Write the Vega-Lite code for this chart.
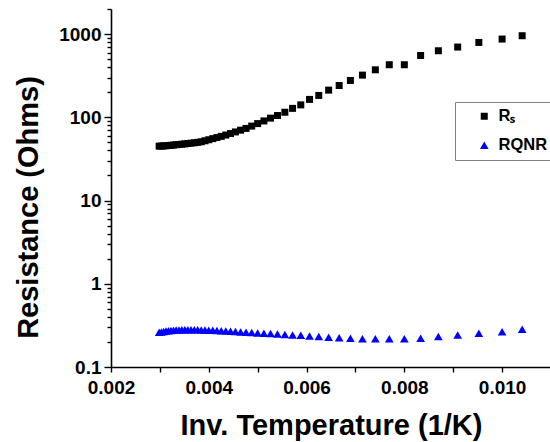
{
  "$schema": "https://vega.github.io/schema/vega-lite/v6.json",
  "autosize": {"type": "none"},
  "padding": {"left": 111, "top": 9, "right": 0, "bottom": 75},
  "width": 440,
  "height": 358,
  "background": "white",
  "config": {
    "view": {"stroke": null},
    "font": "Liberation Sans",
    "axis": {
      "domainColor": "#000000",
      "domainWidth": 1.6,
      "tickColor": "#000000",
      "tickWidth": 1.4,
      "labelColor": "#000000",
      "titleColor": "#000000",
      "labelFont": "Liberation Sans",
      "titleFont": "Liberation Sans",
      "labelFontWeight": "bold",
      "titleFontWeight": "bold",
      "labelFontSize": 19,
      "titleFontSize": 29,
      "grid": false,
      "labelOverlap": false,
      "labelFlush": false
    },
    "legend": {
      "orient": "none",
      "legendX": 344,
      "legendY": 93,
      "padding": 6,
      "symbolOffset": 15,
      "labelOffset": 6,
      "rowPadding": 12,
      "strokeColor": "#808080",
      "fillColor": "white",
      "labelFont": "Liberation Sans",
      "labelFontWeight": "bold",
      "labelFontSize": 16.5,
      "labelColor": "#000000"
    }
  },
  "data": {
    "values": [
      {"invT": 0.01041, "Rs": 955, "RQNR": 0.284},
      {"invT": 0.01, "Rs": 871, "RQNR": 0.266},
      {"invT": 0.009524, "Rs": 793, "RQNR": 0.255},
      {"invT": 0.009091, "Rs": 698, "RQNR": 0.243},
      {"invT": 0.008696, "Rs": 630, "RQNR": 0.232},
      {"invT": 0.008333, "Rs": 553, "RQNR": 0.222},
      {"invT": 0.008, "Rs": 428, "RQNR": 0.219},
      {"invT": 0.007692, "Rs": 428, "RQNR": 0.218},
      {"invT": 0.007407, "Rs": 372, "RQNR": 0.218},
      {"invT": 0.007143, "Rs": 321, "RQNR": 0.219},
      {"invT": 0.006897, "Rs": 277, "RQNR": 0.222},
      {"invT": 0.006667, "Rs": 241, "RQNR": 0.225},
      {"invT": 0.006452, "Rs": 212, "RQNR": 0.228},
      {"invT": 0.00625, "Rs": 183, "RQNR": 0.232},
      {"invT": 0.006061, "Rs": 164, "RQNR": 0.236},
      {"invT": 0.005882, "Rs": 141, "RQNR": 0.24},
      {"invT": 0.005714, "Rs": 128, "RQNR": 0.243},
      {"invT": 0.005556, "Rs": 115, "RQNR": 0.246},
      {"invT": 0.005405, "Rs": 105, "RQNR": 0.249},
      {"invT": 0.005263, "Rs": 97.7, "RQNR": 0.252},
      {"invT": 0.005128, "Rs": 90.4, "RQNR": 0.255},
      {"invT": 0.005, "Rs": 84, "RQNR": 0.257},
      {"invT": 0.004878, "Rs": 78.4, "RQNR": 0.259},
      {"invT": 0.004762, "Rs": 73.5, "RQNR": 0.261},
      {"invT": 0.004651, "Rs": 70, "RQNR": 0.264},
      {"invT": 0.004545, "Rs": 66.7, "RQNR": 0.267},
      {"invT": 0.004444, "Rs": 63.8, "RQNR": 0.269},
      {"invT": 0.004348, "Rs": 61.2, "RQNR": 0.271},
      {"invT": 0.004255, "Rs": 59, "RQNR": 0.273},
      {"invT": 0.004167, "Rs": 57.1, "RQNR": 0.275},
      {"invT": 0.004082, "Rs": 55.4, "RQNR": 0.276},
      {"invT": 0.004, "Rs": 53.7, "RQNR": 0.277},
      {"invT": 0.003922, "Rs": 52.2, "RQNR": 0.278},
      {"invT": 0.003846, "Rs": 50.8, "RQNR": 0.279},
      {"invT": 0.003774, "Rs": 50, "RQNR": 0.28},
      {"invT": 0.003704, "Rs": 49.4, "RQNR": 0.28},
      {"invT": 0.003636, "Rs": 48.9, "RQNR": 0.281},
      {"invT": 0.003571, "Rs": 48.4, "RQNR": 0.281},
      {"invT": 0.003509, "Rs": 47.9, "RQNR": 0.281},
      {"invT": 0.003448, "Rs": 47.5, "RQNR": 0.28},
      {"invT": 0.00339, "Rs": 47.1, "RQNR": 0.279},
      {"invT": 0.003333, "Rs": 46.8, "RQNR": 0.278},
      {"invT": 0.003279, "Rs": 46.4, "RQNR": 0.277},
      {"invT": 0.003226, "Rs": 46.1, "RQNR": 0.275},
      {"invT": 0.003175, "Rs": 45.8, "RQNR": 0.273},
      {"invT": 0.003125, "Rs": 45.5, "RQNR": 0.27},
      {"invT": 0.003077, "Rs": 45.3, "RQNR": 0.267},
      {"invT": 0.00303, "Rs": 45.1, "RQNR": 0.264},
      {"invT": 0.002985, "Rs": 45, "RQNR": 0.261}
    ]
  },
  "transform": [
    {"fold": ["Rs", "RQNR"], "as": ["series", "R"]}
  ],
  "mark": {"type": "point", "filled": true, "opacity": 1, "strokeWidth": 0},
  "encoding": {
    "x": {
      "field": "invT",
      "type": "quantitative",
      "scale": {"domain": [0.002, 0.011], "nice": false, "zero": false},
      "axis": {
        "title": "Inv. Temperature (1/K)",
        "values": [0.002, 0.003, 0.004, 0.005, 0.006, 0.007, 0.008, 0.009, 0.01, 0.011],
        "format": ".3f",
        "labelExpr": "indexof(['0.002','0.004','0.006','0.008','0.010'], datum.label) >= 0 ? datum.label : ''",
        "tickSize": 5,
        "labelPadding": 6,
        "titlePadding": 14
      }
    },
    "y": {
      "field": "R",
      "type": "quantitative",
      "scale": {"type": "log", "domain": [0.1, 2000], "nice": false},
      "axis": {
        "title": "Resistance (Ohms)",
        "values": [0.1, 0.2, 0.3, 0.4, 0.5, 0.6, 0.7, 0.8, 0.9, 1, 2, 3, 4, 5, 6, 7, 8, 9, 10, 20, 30, 40, 50, 60, 70, 80, 90, 100, 200, 300, 400, 500, 600, 700, 800, 900, 1000, 2000],
        "labelExpr": "indexof(['0.1','1','10','100','1000'], toString(datum.value)) >= 0 ? toString(datum.value) : ''",
        "tickSize": {"condition": {"test": "indexof(['0.1','1','10','100','1000'], toString(datum.value)) >= 0", "value": 7}, "value": 4},
        "labelPadding": 3,
        "titlePadding": 15,
        "titleY": 198
      }
    },
    "shape": {
      "field": "series",
      "type": "nominal",
      "scale": {"domain": ["Rs", "RQNR"], "range": ["square", "triangle-up"]},
      "legend": {"title": null, "labelExpr": "datum.label == 'Rs' ? 'Rₛ' : 'RQNR'"}
    },
    "color": {
      "field": "series",
      "type": "nominal",
      "scale": {"domain": ["Rs", "RQNR"], "range": ["#000000", "#0000ff"]},
      "legend": {"title": null, "labelExpr": "datum.label == 'Rs' ? 'Rₛ' : 'RQNR'"}
    },
    "size": {
      "field": "series",
      "type": "nominal",
      "scale": {"domain": ["Rs", "RQNR"], "range": [49, 75]},
      "legend": {"title": null, "labelExpr": "datum.label == 'Rs' ? 'Rₛ' : 'RQNR'"}
    }
  }
}
